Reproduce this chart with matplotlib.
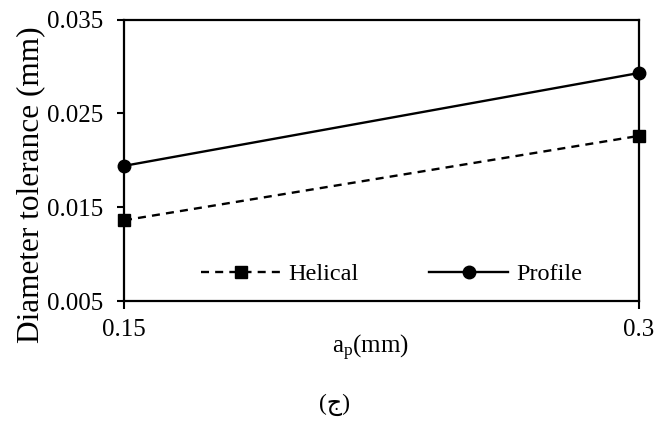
import matplotlib
matplotlib.use("Agg")
import matplotlib.pyplot as plt

ap = [0.15, 0.3]
helical = [0.0136, 0.0226]
profile = [0.0194, 0.0293]
yticks = [0.005, 0.015, 0.025, 0.035]
ytick_labels = ["0.005", "0.015", "0.025", "0.035"]
xtick_labels = ["0.15", "0.3"]

plt.rcParams['font.family'] = ['Liberation Serif', 'DejaVu Sans']
plt.rcParams['mathtext.fontset'] = 'custom'
plt.rcParams['mathtext.rm'] = 'Liberation Serif'
plt.rcParams['mathtext.it'] = 'Liberation Serif'

fig = plt.figure(figsize=(6.67, 4.22), dpi=100)
ax = fig.add_axes([124/667, 1-301/422, (639-124)/667, (301-19.5)/422])

ax.plot(ap, helical, color='black', lw=1.7, dashes=(3.4, 2.6), marker='s',
        markersize=9, label='Helical', clip_on=False, zorder=3)
ax.plot(ap, profile, color='black', lw=1.7, marker='o', markersize=9,
        label='Profile', clip_on=False, zorder=3)

ax.set_xlim(0.15, 0.3)
ax.set_ylim(0.005, 0.035)
ax.set_yticks(yticks)
ax.set_yticklabels(ytick_labels)
ax.set_xticks(ap)
ax.set_xticklabels(xtick_labels)
ax.tick_params(axis='both', labelsize=18, direction='out', width=1.5, color='black')
ax.tick_params(axis='y', length=5, pad=10)
ax.tick_params(axis='x', length=6, pad=7)
for s in ax.spines.values():
    s.set_linewidth(1.6)

ax.set_ylabel('Diameter tolerance (mm)', fontsize=22.5)
ax.yaxis.set_label_coords(-0.153, 0.412)
ax.set_xlabel(r'a$_{\mathrm{p}}$(mm)', fontsize=18)
ax.xaxis.set_label_coords(0.478, -0.115)

leg = ax.legend(loc='center', bbox_to_anchor=(0.52, 0.095), ncol=2, frameon=False,
                fontsize=17.5, handlelength=3.25, handletextpad=0.33, columnspacing=2.9,
                borderpad=0.2)

fig.text(335/667, 1-405/422, '(ج)', ha='center', va='center', fontsize=17,
         family=['Liberation Serif', 'DejaVu Sans'])

fig.savefig('out.png', dpi=100)
